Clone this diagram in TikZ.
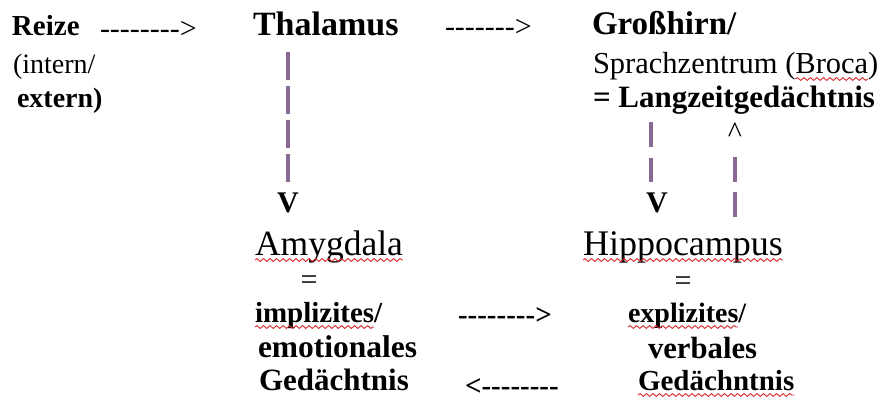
\documentclass[tikz,border=0pt]{standalone}
\usepackage{fontspec}
\setmainfont{Liberation Serif}
\usetikzlibrary{decorations.pathmorphing}
\definecolor{barcol}{RGB}{135,105,145}
\definecolor{wavecol}{RGB}{215,40,40}
\newcommand{\fsz}[1]{\fontsize{#1}{#1}\selectfont}
\begin{document}
\begin{tikzpicture}[x=1pt,y=-1pt,
  t/.style={inner sep=0pt, outer sep=0pt, anchor=base west, text=black},
  tc/.style={inner sep=0pt, outer sep=0pt, anchor=base, text=black},
  bar/.style={draw=barcol, line width=3.2pt},
  wavy/.style={draw=wavecol, line width=0.9pt, decorate,
    decoration={snake, amplitude=1.4pt, segment length=6.5pt}}]
\useasboundingbox (0,0) rectangle (882,404);
% top row
\node[t, font=\bfseries\fsz{29}] (reize) at (12,36) {Reize};
\node[t, font=\fsz{30}] (a1) at (100,38) {-{}-{}-{}-{}-{}-{}-{}-{}>};
\node[t, font=\bfseries\fsz{34}] (thal) at (253,36) {Thalamus};
\node[t, font=\fsz{30}] (a2) at (445,37) {-{}-{}-{}-{}-{}-{}-{}>};
\node[t, font=\bfseries\fsz{33}] (gross) at (592,35) {Großhirn/};
% second and third rows
\node[t, font=\fsz{28}] (intern) at (13,74) {(intern/};
\node[t, font=\bfseries\fsz{28}] (extern) at (17,107) {extern)};
\node[t, font=\fsz{30.5}] (sprach) at (593,74) {Sprachzentrum (};
\node[t, font=\fsz{30.5}] (broca) at (sprach.base east) {Broca};
\node[t, font=\fsz{30.5}] (brocb) at (broca.base east) {)};
\node[t, font=\bfseries\fsz{31}] (lang) at (593,107) {= Langzeitgedächtnis};
% arrow heads
\node[tc, font=\bfseries\fsz{30}] (vL) at (288,212) {V};
\node[tc, font=\bfseries\fsz{30}] (vR) at (657,212) {V};
\node[tc, font=\fsz{30}] (caret) at (735,142) {\char`\^};
% lower left
\node[t, font=\fsz{35.5}] (amyg) at (255,255) {Amygdala};
\node[tc, font=\fsz{30}] (eqL) at (309,289) {=};
\node[t, font=\bfseries\fsz{29}] (impl) at (255,322) {implizites};
\node[t, font=\bfseries\fsz{29}] (implb) at (impl.base east) {/};
\node[t, font=\bfseries\fsz{31.5}] (emot) at (258,357) {emotionales};
\node[t, font=\bfseries\fsz{31}] (gedL) at (259,390) {Gedächtnis};
% lower middle arrows
\node[t, font=\bfseries\fsz{29}] (a3) at (458,324) {-{}-{}-{}-{}-{}-{}-{}-{}>};
\node[t, font=\bfseries\fsz{29}] (a4) at (465,395) {<-{}-{}-{}-{}-{}-{}-{}-{}};
% lower right
\node[t, font=\fsz{36}] (hippo) at (583,255) {Hippocampus};
\node[tc, font=\fsz{30}] (eqR) at (683,290) {=};
\node[t, font=\bfseries\fsz{28}] (expl) at (628,322) {explizites};
\node[t, font=\bfseries\fsz{28}] (explb) at (expl.base east) {/};
\node[t, font=\bfseries\fsz{30.7}] (verb) at (648,358) {verbales};
\node[t, font=\bfseries\fsz{29}] (gedR) at (638,390) {Gedächntnis};
% vertical dashed connectors
\draw[bar, dash pattern=on 28pt off 6pt]
  ([yshift=-16pt]thal.base -| vL.north) -- ([yshift=10pt]vL.north);
\draw[bar, dash pattern=on 25pt off 11pt]
  ([xshift=-6pt,yshift=-15pt]lang.base -| vR.north) -- ([xshift=-6pt,yshift=10pt]vR.north);
\draw[bar, dash pattern=on 25pt off 10pt]
  ([yshift=14pt]hippo.north -| caret.south) -- ([yshift=-15pt]caret.south);
% spell-check underlines
\draw[wavy] ([yshift=-5pt]broca.base west) -- ([yshift=-5pt]broca.base east);
\draw[wavy] ([yshift=-5pt]amyg.base west) -- ([yshift=-5pt]amyg.base east);
\draw[wavy] ([yshift=-5pt]impl.base west) -- ([yshift=-5pt]impl.base east);
\draw[wavy] ([yshift=-5pt]hippo.base west) -- ([yshift=-5pt]hippo.base east);
\draw[wavy] ([yshift=-5pt]expl.base west) -- ([yshift=-5pt]expl.base east);
\draw[wavy] ([yshift=-5pt]gedR.base west) -- ([yshift=-5pt]gedR.base east);
\end{tikzpicture}
\end{document}
